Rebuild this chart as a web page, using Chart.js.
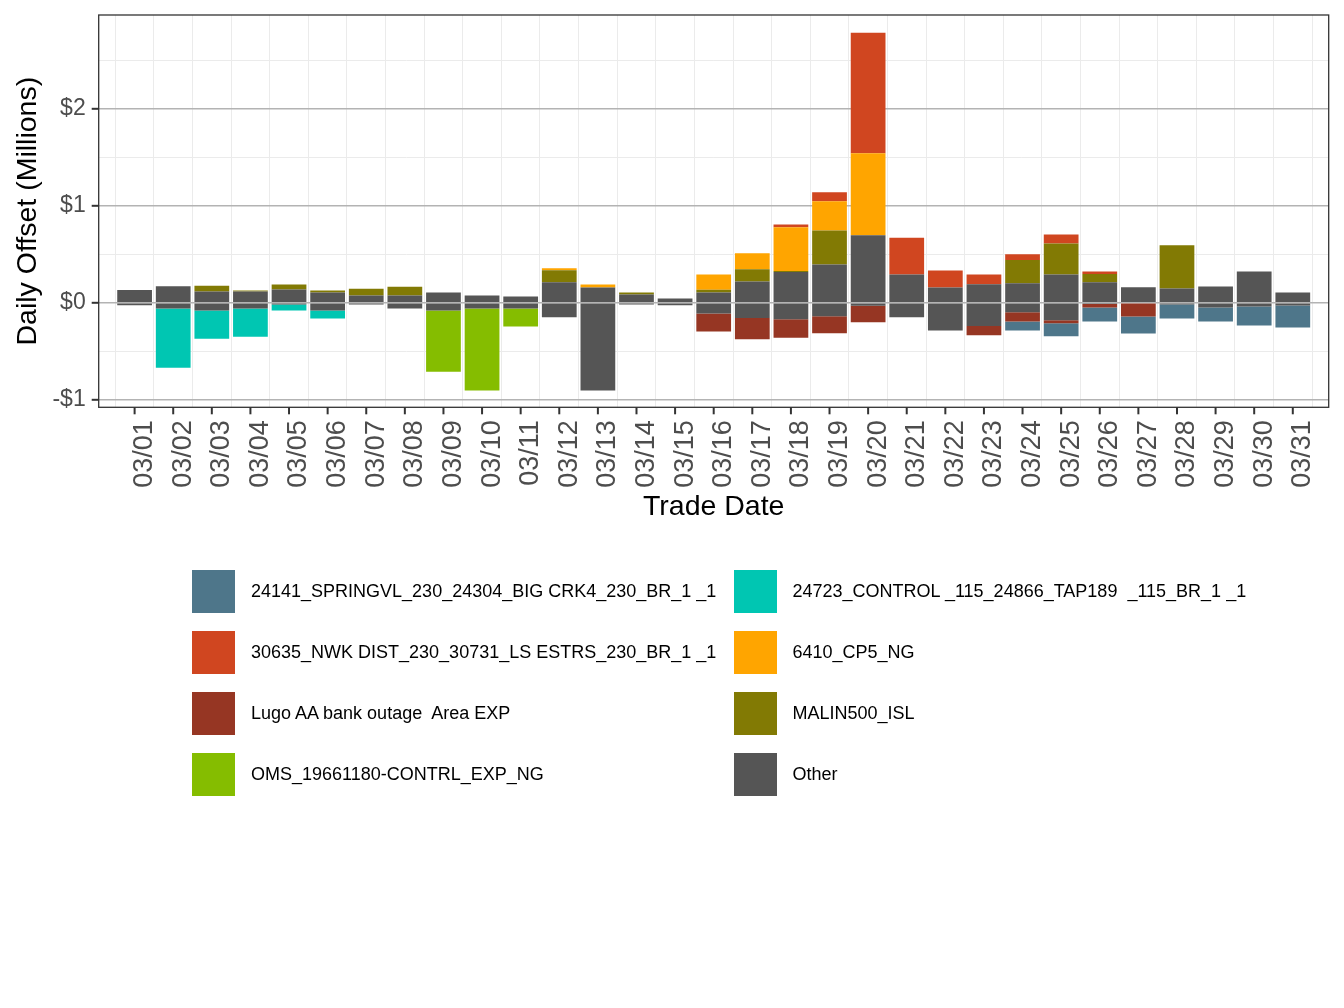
<!DOCTYPE html>
<html>
<head>
<meta charset="utf-8">
<script src="https://cdn.jsdelivr.net/npm/chart.js@4"></script>
<style>
  body { margin: 0; background: #fff; }
  #wrap { position: relative; width: 1344px; height: 1008px; }
  #legend { position: absolute; left: 0; top: 0; font-family: "Liberation Sans", Arial, sans-serif; font-size: 18px; color: #000; }
  .key { position: absolute; width: 43px; height: 43px; }
  .lab { position: absolute; white-space: pre; line-height: 43px; }
</style>
</head>
<body>
<div id="wrap">
  <canvas id="chart" width="1344" height="1008"></canvas>
  <div id="legend"></div>
</div>
<script>
const dates = ["03/01","03/02","03/03","03/04","03/05","03/06","03/07","03/08","03/09","03/10",
  "03/11","03/12","03/13","03/14","03/15","03/16","03/17","03/18","03/19","03/20",
  "03/21","03/22","03/23","03/24","03/25","03/26","03/27","03/28","03/29","03/30","03/31"];

// values in $ millions
const otherPos = [0.13,0.17,0.115,0.115,0.137,0.105,0.075,0.075,0.105,0.075,0.065,0.21,0.158,0.085,0.045,
  0.105,0.22,0.317,0.395,0.695,0.29,0.158,0.19,0.2,0.29,0.21,0.16,0.147,0.168,0.323,0.106];
const otherNeg = [-0.025,-0.06,-0.08,-0.06,-0.017,-0.08,-0.017,-0.06,-0.08,-0.06,-0.06,-0.15,-0.905,-0.017,-0.027,
  -0.11,-0.157,-0.17,-0.14,-0.03,-0.15,-0.285,-0.24,-0.097,-0.18,-0.014,-0.007,-0.017,-0.048,-0.038,-0.028];
const oms = [0,0,0,0,0,0,0,0,-0.63,-0.845,-0.185,0,0,0,0,0,0,0,0,0,0,0,0,0,0,0,0,0,0,0,0];
const malin = [0,0,0.06,0.01,0.05,0.02,0.07,0.09,0,0,0,0.125,0,0.02,0,0.03,0.125,0.01,0.35,0,0,0,0,0.24,0.32,0.085,0,0.445,0,0,0];
const lugo = [0,0,0,0,0,0,0,0,0,0,0,0,0,0,0,-0.185,-0.22,-0.19,-0.175,-0.17,0,0,-0.095,-0.096,-0.03,-0.035,-0.135,0,0,0,0];
const cp5 = [0,0,0,0,0,0,0,0,0,0,0,0.02,0.03,0,0,0.155,0.165,0.45,0.30,0.845,0,0,0,0,0,0,0,0,0,0,0];
const nwk = [0,0,0,0,0,0,0,0,0,0,0,0,0,0,0,0,0,0.03,0.093,1.24,0.38,0.175,0.10,0.06,0.093,0.028,0,0,0,0,0];
const control = [0,-0.61,-0.29,-0.29,-0.062,-0.083,0,0,0,0,0,0,0,0,0,0,0,0,0,0,0,0,0,0,0,0,0,0,0,0,0];
const spring = [0,0,0,0,0,0,0,0,0,0,0,0,0,0,0,0,0,0,0,0,0,0,0,-0.093,-0.135,-0.145,-0.175,-0.145,-0.145,-0.196,-0.227];

const names = {
  spring: "24141_SPRINGVL_230_24304_BIG CRK4_230_BR_1 _1",
  control: "24723_CONTROL _115_24866_TAP189  _115_BR_1 _1",
  nwk: "30635_NWK DIST_230_30731_LS ESTRS_230_BR_1 _1",
  cp5: "6410_CP5_NG",
  lugo: "Lugo AA bank outage  Area EXP",
  malin: "MALIN500_ISL",
  oms: "OMS_19661180-CONTRL_EXP_NG",
  other: "Other"
};
const colors = {
  spring: "#4e768a", control: "#00c6b2", nwk: "#d04620", cp5: "#ffa500",
  lugo: "#963623", malin: "#827a04", oms: "#85bd00", other: "#555555"
};

function pts(arr) {
  return arr.map((v, i) => ({ x: i + 1, y: v === 0 ? null : v }));
}

// first dataset sits next to zero
const stackOrder = [
  ["other", otherPos], ["other", otherNeg], ["oms", oms], ["malin", malin], ["lugo", lugo],
  ["cp5", cp5], ["nwk", nwk], ["control", control], ["spring", spring]
];

const datasets = stackOrder.map(([key, arr]) => ({
  label: names[key],
  data: pts(arr),
  backgroundColor: colors[key],
  borderWidth: 0,
  barPercentage: 0.9,
  categoryPercentage: 1.0
}));

const panel = {
  id: 'panel',
  afterDraw(chart) {
    const { ctx, chartArea: a, scales: { x } } = chart;
    ctx.save();
    ctx.strokeStyle = '#333333';
    ctx.lineWidth = 2;
    x.ticks.forEach(t => {
      const px = x.getPixelForValue(t.value);
      ctx.beginPath();
      ctx.moveTo(px, a.bottom);
      ctx.lineTo(px, a.bottom + 7);
      ctx.stroke();
    });
    ctx.lineWidth = 1.3;
    ctx.strokeRect(a.left, a.top, a.right - a.left, a.bottom - a.top);
    ctx.restore();
  }
};

const isMajor = v => Math.abs(v - Math.round(v)) < 1e-6;

new Chart(document.getElementById('chart'), {
  type: 'bar',
  data: { datasets: datasets },
  plugins: [panel],
  options: {
    responsive: false,
    animation: false,
    layout: { padding: { top: 15, right: 15.3, left: 0, bottom: 484 } },
    plugins: { legend: { display: false }, tooltip: { enabled: false } },
    scales: {
      x: {
        type: 'linear',
        stacked: true,
        offset: false,
        min: 0.07,
        max: 31.93,
        afterBuildTicks: axis => { axis.ticks = dates.map((d, i) => ({ value: i + 1 })); },
        afterFit: axis => { axis.height = 116.7; axis.paddingLeft = 0; axis.paddingRight = 0; },
        grid: { offset: true, color: '#ebebeb', lineWidth: 1, drawTicks: false },
        border: { display: false },
        ticks: {
          autoSkip: false,
          minRotation: 90,
          maxRotation: 90,
          padding: 13,
          labelOffset: 10,
          color: '#4d4d4d',
          font: { family: 'Liberation Sans', size: 27 },
          callback: v => dates[Math.round(v) - 1]
        },
        title: {
          display: true,
          text: 'Trade Date',
          color: '#000',
          padding: { top: 0, bottom: 0 },
          font: { family: 'Liberation Sans', size: 28.5 }
        }
      },
      y: {
        stacked: true,
        min: -1.077,
        max: 2.964,
        afterFit: axis => { axis.width = 98.7; axis.paddingTop = 0; axis.paddingBottom = 0; },
        grid: {
          color: c => isMajor(c.tick.value) ? '#b3b3b3' : '#ebebeb',
          lineWidth: c => isMajor(c.tick.value) ? 1.6 : 1,
          tickColor: c => isMajor(c.tick.value) ? '#333333' : 'rgba(0,0,0,0)',
          tickLength: 7,
          tickWidth: 2
        },
        border: { display: false },
        ticks: {
          stepSize: 0.5,
          includeBounds: false,
          padding: 6,
          color: '#4d4d4d',
          font: { family: 'Liberation Sans', size: 23 },
          callback: v => isMajor(v) ? (v < 0 ? '-$' + Math.abs(Math.round(v)) : '$' + Math.round(v)) : ''
        },
        title: {
          display: true,
          text: 'Daily Offset (Millions)',
          color: '#000',
          padding: { top: 11, bottom: 0 },
          font: { family: 'Liberation Sans', size: 28.5 }
        }
      }
    }
  }
});

// legend, two columns, in the original key order
const legendKeys = ["spring", "control", "nwk", "cp5", "lugo", "malin", "oms", "other"];
const legend = document.getElementById('legend');
legendKeys.forEach((key, i) => {
  const col = i % 2, row = Math.floor(i / 2);
  const top = 570 + row * 61;
  const kx = col === 0 ? 192 : 733.5;
  const tx = col === 0 ? 251 : 792.5;
  const k = document.createElement('div');
  k.className = 'key';
  k.style.left = kx + 'px';
  k.style.top = top + 'px';
  k.style.background = colors[key];
  const t = document.createElement('div');
  t.className = 'lab';
  t.style.left = tx + 'px';
  t.style.top = top + 'px';
  t.textContent = names[key];
  legend.appendChild(k);
  legend.appendChild(t);
});
</script>
</body>
</html>
